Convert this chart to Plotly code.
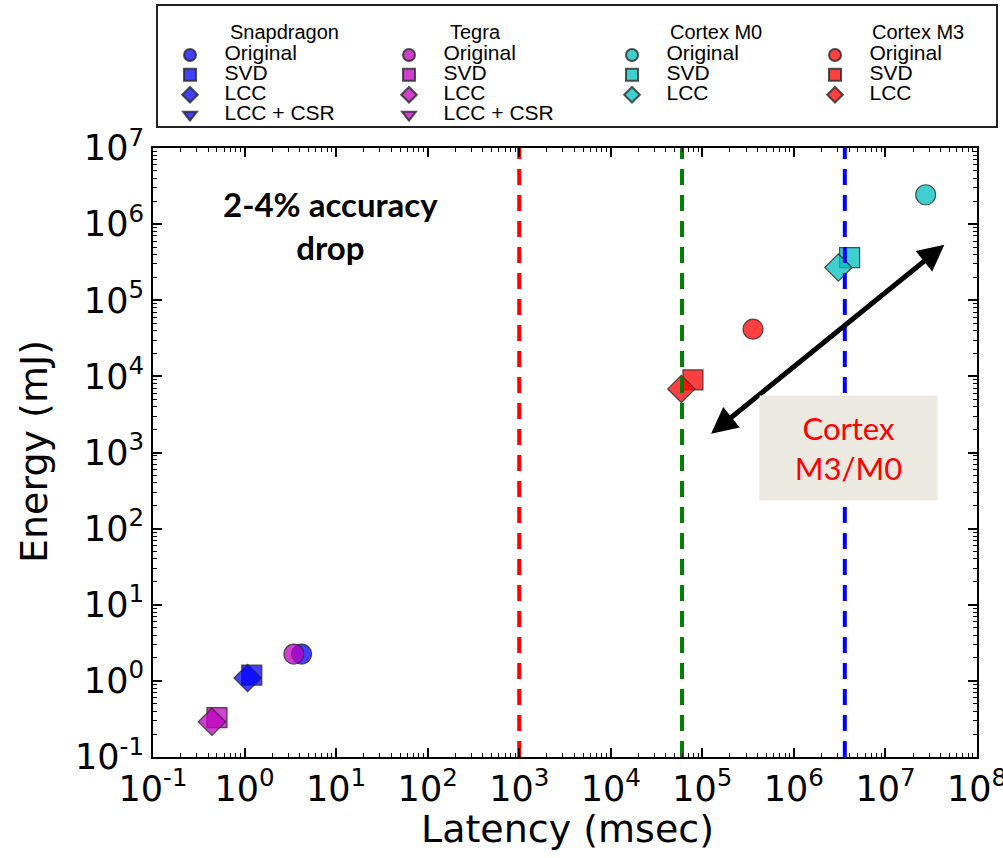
import plotly.graph_objects as go
import math

# ---------------- data ----------------
platforms = ["Snapdragon", "Tegra", "Cortex M0", "Cortex M3"]
methods = ["Original", "SVD", "LCC", "LCC + CSR"]

snap_latency = [4.2, 1.2, 1.08, None]
snap_energy = [2.25, 1.19, 1.09, None]

tegra_latency = [3.46, 0.50, 0.44, None]
tegra_energy = [2.25, 0.33, 0.29, None]

m0_latency = [2.75e7, 4.06e6, 3.06e6]
m0_energy = [2.43e6, 3.64e5, 2.69e5]

m3_latency = [3.58e5, 7.9e4, 5.9e4]
m3_energy = [4.17e4, 9.0e3, 6.85e3]

threshold_latency = [1e3, 6e4, 3.6e6]   # 1 s, 1 min, 1 h
threshold_colors = ["#FF0000", "#008000", "#0000FF"]

arrow_start = (1.2e5, 1.7e3)
arrow_end = (4.4e7, 5.35e5)

x_exponents = list(range(-1, 9))
y_exponents = list(range(-1, 8))

# ---------------- style ----------------
colors = {
    "Snapdragon": "rgba(0,0,255,0.75)",
    "Tegra": "rgba(191,0,191,0.75)",
    "Cortex M0": "rgba(0,191,191,0.75)",
    "Cortex M3": "rgba(255,0,0,0.75)",
}
symbols = {"Original": "circle", "SVD": "square", "LCC": "diamond", "LCC + CSR": "triangle-down"}
sizes = {"Original": 20, "SVD": 20, "LCC": 21, "LCC + CSR": 16}

series = [
    ("Snapdragon", snap_latency, snap_energy, "legend"),
    ("Tegra", tegra_latency, tegra_energy, "legend2"),
    ("Cortex M0", m0_latency, m0_energy, "legend3"),
    ("Cortex M3", m3_latency, m3_energy, "legend4"),
]

# plot-area geometry (pixels)
L, R, T, B = 153, 26, 148, 101
W, H = 1003, 858
PW, PH = W - L - R, H - T - B


def px_to_paper(px, py):
    return (px - L) / PW, (H - B - py) / PH


LEG_FONT = "Liberation Sans"
LEG_SIZE = 21


def leg_name(s):
    return f'&nbsp;&nbsp;&nbsp;&nbsp;<span style="font-size:{LEG_SIZE}px">{s}</span>'


fig = go.Figure()

for plat, xs, ys, leg in series:
    for i, (xv, yv) in enumerate(zip(xs, ys)):
        m = methods[i]
        fig.add_trace(go.Scatter(
            x=[xv], y=[yv], mode="markers", name=leg_name(m), legend=leg,
            marker=dict(symbol=symbols[m], size=sizes[m], color=colors[plat],
                        line=dict(color="rgba(40,40,40,0.8)", width=1.2)),
        ))

for xv, c in zip(threshold_latency, threshold_colors):
    fig.add_trace(go.Scatter(
        x=[xv, xv], y=[10.0 ** y_exponents[0], 10.0 ** y_exponents[-1]], mode="lines", showlegend=False,
        line=dict(color=c, width=4, dash="16px,10px"), hoverinfo="skip",
    ))

# arrow (annotation coordinates on log axes are log10 values)
fig.add_annotation(
    x=math.log10(arrow_end[0]), y=math.log10(arrow_end[1]),
    ax=math.log10(arrow_start[0]), ay=math.log10(arrow_start[1]),
    xref="x", yref="y", axref="x", ayref="y",
    showarrow=True, arrowhead=2, startarrowhead=2, arrowside="end+start",
    arrowsize=1.05, startarrowsize=1.05, arrowwidth=5, arrowcolor="black", text="",
)

fig.add_annotation(
    x=0.943, y=5.978, xref="x", yref="y",
    text="<b>2-4% accuracy<br>drop</b>", showarrow=False,
    font=dict(family="Lato", size=33, color="black"),
)

fig.add_annotation(
    x=6.593, y=3.054, xref="x", yref="y",
    text="Cortex<br>M3/M0", showarrow=False, width=175, height=102,
    bgcolor="#ECEAE0", font=dict(family="Lato", size=31, color="#FF0000"),
    align="center", valign="middle",
)

# axis titles
xt = px_to_paper(567, 829)
fig.add_annotation(x=xt[0], y=xt[1], xref="paper", yref="paper", text="Latency (msec)",
                   showarrow=False, xanchor="center", yanchor="middle",
                   font=dict(family="DejaVu Sans", size=38, color="black"))
yt = px_to_paper(34, 452)
fig.add_annotation(x=yt[0], y=yt[1], xref="paper", yref="paper", text="Energy (mJ)",
                   showarrow=False, xanchor="center", yanchor="middle", textangle=-90,
                   font=dict(family="DejaVu Sans", size=38, color="black"))

# legend box & titles
bx0, by1 = px_to_paper(157, 5)
bx1, by0 = px_to_paper(997, 127)
fig.add_shape(type="rect", xref="paper", yref="paper",
              x0=bx0, x1=bx1, y0=by0, y1=by1,
              line=dict(color="#222222", width=2), fillcolor="white", layer="below")

title_x = [228, 448, 668, 870]
for plat, tx in zip(platforms, title_x):
    ax_, ay_ = px_to_paper(tx, 32)
    fig.add_annotation(x=ax_, y=ay_, xref="paper", yref="paper",
                       xanchor="left", yanchor="middle", text=plat, showarrow=False,
                       font=dict(family=LEG_FONT, size=LEG_SIZE - 1, color="black"))

legend_common = dict(
    bgcolor="rgba(0,0,0,0)", borderwidth=0, font=dict(family=LEG_FONT, size=13, color="black"),
    xref="container", yref="container", xanchor="left", yanchor="top",
    orientation="v", itemsizing="constant", tracegroupgap=0,
)
leg_x = [170, 389, 612, 815]
leg_y = 1 - 40 / H
fig.update_layout(
    legend=dict(x=leg_x[0] / W, y=leg_y, **legend_common),
    legend2=dict(x=leg_x[1] / W, y=leg_y, **legend_common),
    legend3=dict(x=leg_x[2] / W, y=leg_y, **legend_common),
    legend4=dict(x=leg_x[3] / W, y=leg_y, **legend_common),
)


def minor_vals(exps):
    out = []
    for e in exps[:-1]:
        for k in range(2, 10):
            out.append(k * 10.0 ** e)
    return out


axis_common = dict(
    type="log", showgrid=False, zeroline=False, showline=True, linecolor="black", linewidth=2,
    mirror="ticks", ticks="inside", ticklen=9, tickwidth=1.5, tickcolor="black",
    tickfont=dict(family="DejaVu Sans", size=35, color="black"),
    ticklabeloverflow="allow",
)

fig.update_xaxes(
    range=[x_exponents[0], x_exponents[-1]],
    tickvals=[10.0 ** e for e in x_exponents],
    ticktext=[f"10<sup>{e}</sup>" for e in x_exponents],
    minor=dict(ticks="inside", ticklen=4, tickwidth=1, tickcolor="black", showgrid=False,
               tickvals=minor_vals(x_exponents)),
    **axis_common)
fig.update_yaxes(
    range=[y_exponents[0], y_exponents[-1]],
    tickvals=[10.0 ** e for e in y_exponents],
    ticktext=[f"10<sup>{e}</sup>" for e in y_exponents],
    minor=dict(ticks="inside", ticklen=4, tickwidth=1, tickcolor="black", showgrid=False,
               tickvals=minor_vals(y_exponents)),
    **axis_common)

fig.update_layout(
    width=W, height=H, autosize=False,
    margin=dict(l=L, r=R, t=T, b=B, autoexpand=False),
    plot_bgcolor="white", paper_bgcolor="white",
)

fig.write_html("out.html")
